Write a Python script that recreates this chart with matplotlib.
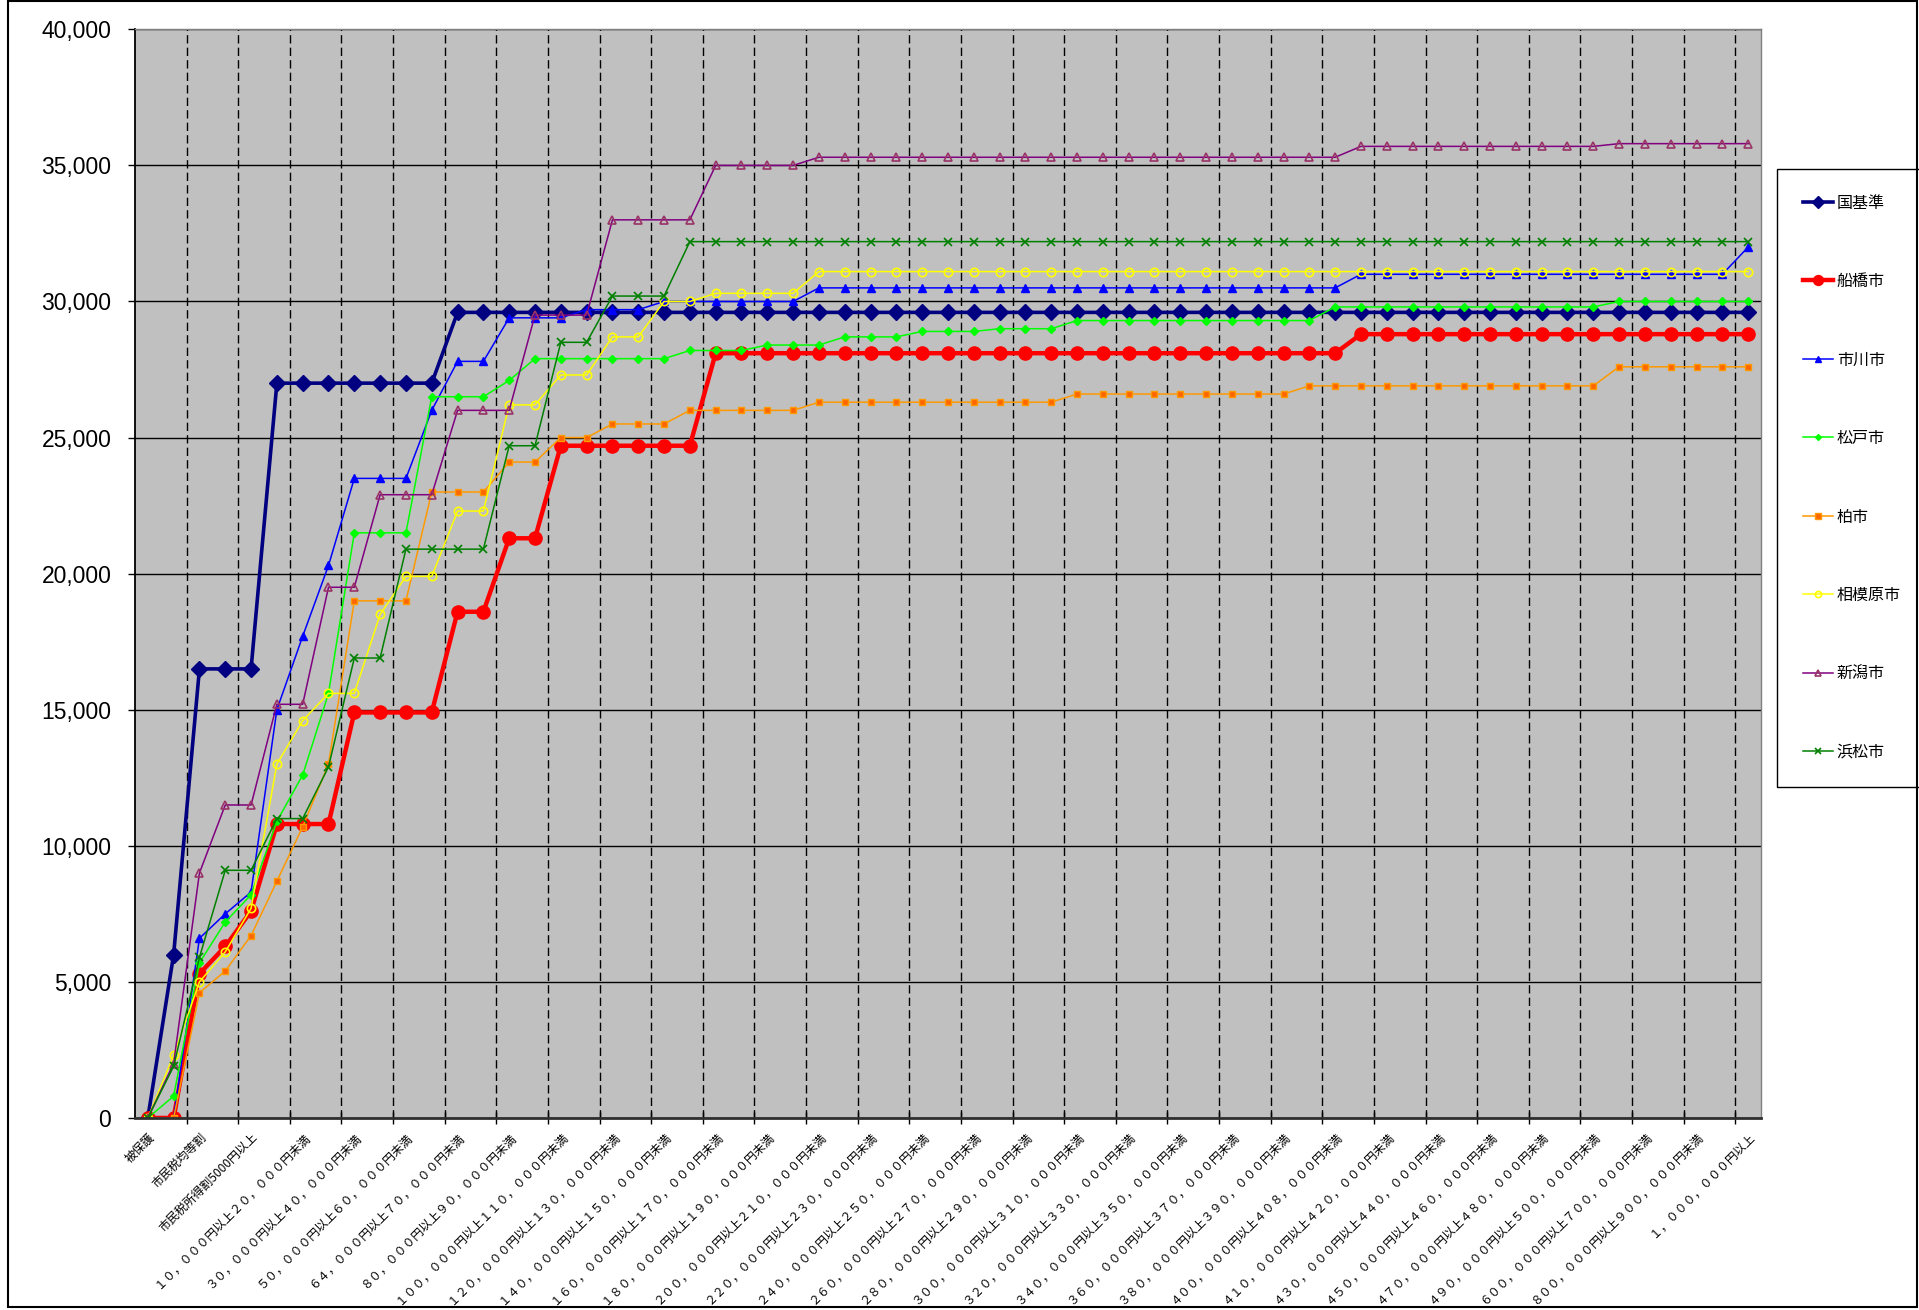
import matplotlib
matplotlib.use('Agg')
import matplotlib.pyplot as plt
from matplotlib.patches import Rectangle
from matplotlib.ticker import FuncFormatter, MultipleLocator

# tick labels (every second category is labelled)
x_labels = [
    '被保護', '市民税均等割', '市民税所得割5000円以上',
    '１０，０００円以上２０，０００円未満',
    '３０，０００円以上４０，０００円未満',
    '５０，０００円以上６０，０００円未満',
    '６４，０００円以上７０，０００円未満',
    '８０，０００円以上９０，０００円未満',
    '１００，０００円以上１１０，０００円未満',
    '１２０，０００円以上１３０，０００円未満',
    '１４０，０００円以上１５０，０００円未満',
    '１６０，０００円以上１７０，０００円未満',
    '１８０，０００円以上１９０，０００円未満',
    '２００，０００円以上２１０，０００円未満',
    '２２０，０００円以上２３０，０００円未満',
    '２４０，０００円以上２５０，０００円未満',
    '２６０，０００円以上２７０，０００円未満',
    '２８０，０００円以上２９０，０００円未満',
    '３００，０００円以上３１０，０００円未満',
    '３２０，０００円以上３３０，０００円未満',
    '３４０，０００円以上３５０，０００円未満',
    '３６０，０００円以上３７０，０００円未満',
    '３８０，０００円以上３９０，０００円未満',
    '４００，０００円以上４０８，０００円未満',
    '４１０，０００円以上４２０，０００円未満',
    '４３０，０００円以上４４０，０００円未満',
    '４５０，０００円以上４６０，０００円未満',
    '４７０，０００円以上４８０，０００円未満',
    '４９０，０００円以上５００，０００円未満',
    '６００，０００円以上７００，０００円未満',
    '８００，０００円以上９００，０００円未満',
    '１，０００，０００円以上',
]

kuni = [0, 6000, 16500, 16500, 16500, 27000, 27000, 27000, 27000, 27000,
        27000, 27000, 29600, 29600, 29600, 29600, 29600, 29600, 29600, 29600,
        29600, 29600, 29600, 29600, 29600, 29600, 29600, 29600, 29600, 29600,
        29600, 29600, 29600, 29600, 29600, 29600, 29600, 29600, 29600, 29600,
        29600, 29600, 29600, 29600, 29600, 29600, 29600, 29600, 29600, 29600,
        29600, 29600, 29600, 29600, 29600, 29600, 29600, 29600, 29600, 29600,
        29600, 29600, 29600]
funabashi = [0, 0, 5300, 6300, 7600, 10800, 10800, 10800, 14900, 14900,
             14900, 14900, 18600, 18600, 21300, 21300, 24700, 24700, 24700, 24700,
             24700, 24700, 28100, 28100, 28100, 28100, 28100, 28100, 28100, 28100,
             28100, 28100, 28100, 28100, 28100, 28100, 28100, 28100, 28100, 28100,
             28100, 28100, 28100, 28100, 28100, 28100, 28100, 28800, 28800, 28800,
             28800, 28800, 28800, 28800, 28800, 28800, 28800, 28800, 28800, 28800,
             28800, 28800, 28800]
ichikawa = [0, 0, 6600, 7500, 8300, 15000, 17700, 20300, 23500, 23500,
            23500, 26000, 27800, 27800, 29400, 29400, 29400, 29700, 29700, 29700,
            30000, 30000, 30000, 30000, 30000, 30000, 30500, 30500, 30500, 30500,
            30500, 30500, 30500, 30500, 30500, 30500, 30500, 30500, 30500, 30500,
            30500, 30500, 30500, 30500, 30500, 30500, 30500, 31000, 31000, 31000,
            31000, 31000, 31000, 31000, 31000, 31000, 31000, 31000, 31000, 31000,
            31000, 31000, 32000]
matsudo = [0, 800, 5700, 7200, 8200, 10900, 12600, 15600, 21500, 21500,
           21500, 26500, 26500, 26500, 27100, 27900, 27900, 27900, 27900, 27900,
           27900, 28200, 28200, 28200, 28400, 28400, 28400, 28700, 28700, 28700,
           28900, 28900, 28900, 29000, 29000, 29000, 29300, 29300, 29300, 29300,
           29300, 29300, 29300, 29300, 29300, 29300, 29800, 29800, 29800, 29800,
           29800, 29800, 29800, 29800, 29800, 29800, 29800, 30000, 30000, 30000,
           30000, 30000, 30000]
kashiwa = [0, 0, 4600, 5400, 6700, 8700, 10700, 13000, 19000, 19000,
           19000, 23000, 23000, 23000, 24100, 24100, 25000, 25000, 25500, 25500,
           25500, 26000, 26000, 26000, 26000, 26000, 26300, 26300, 26300, 26300,
           26300, 26300, 26300, 26300, 26300, 26300, 26600, 26600, 26600, 26600,
           26600, 26600, 26600, 26600, 26600, 26900, 26900, 26900, 26900, 26900,
           26900, 26900, 26900, 26900, 26900, 26900, 26900, 27600, 27600, 27600,
           27600, 27600, 27600]
sagamihara = [0, 2300, 5000, 6100, 7700, 13000, 14600, 15600, 15600, 18500,
              19900, 19900, 22300, 22300, 26200, 26200, 27300, 27300, 28700, 28700,
              30000, 30000, 30300, 30300, 30300, 30300, 31100, 31100, 31100, 31100,
              31100, 31100, 31100, 31100, 31100, 31100, 31100, 31100, 31100, 31100,
              31100, 31100, 31100, 31100, 31100, 31100, 31100, 31100, 31100, 31100,
              31100, 31100, 31100, 31100, 31100, 31100, 31100, 31100, 31100, 31100,
              31100, 31100, 31100]
niigata = [0, 2000, 9000, 11500, 11500, 15200, 15200, 19500, 19500, 22900,
           22900, 22900, 26000, 26000, 26000, 29500, 29500, 29500, 33000, 33000,
           33000, 33000, 35000, 35000, 35000, 35000, 35300, 35300, 35300, 35300,
           35300, 35300, 35300, 35300, 35300, 35300, 35300, 35300, 35300, 35300,
           35300, 35300, 35300, 35300, 35300, 35300, 35300, 35700, 35700, 35700,
           35700, 35700, 35700, 35700, 35700, 35700, 35700, 35800, 35800, 35800,
           35800, 35800, 35800]
hamamatsu = [0, 1900, 5900, 9100, 9100, 11000, 11000, 12900, 16900, 16900,
             20900, 20900, 20900, 20900, 24700, 24700, 28500, 28500, 30200, 30200,
             30200, 32200, 32200, 32200, 32200, 32200, 32200, 32200, 32200, 32200,
             32200, 32200, 32200, 32200, 32200, 32200, 32200, 32200, 32200, 32200,
             32200, 32200, 32200, 32200, 32200, 32200, 32200, 32200, 32200, 32200,
             32200, 32200, 32200, 32200, 32200, 32200, 32200, 32200, 32200, 32200,
             32200, 32200, 32200]

names = ['国基準', '船橋市', '市川市', '松戸市', '柏市', '相模原市', '新潟市', '浜松市']
series = [kuni, funabashi, ichikawa, matsudo, kashiwa, sagamihara, niigata, hamamatsu]
styles = [
    dict(color='#000080', lw=2.6, marker='D', ms=8.5, mfc='#000080', mec='#000080'),
    dict(color='#FF0000', lw=3.2, marker='o', ms=9.5, mfc='#FF0000', mec='#FF0000'),
    dict(color='#0000FF', lw=1.1, marker='^', ms=6, mfc='#0000FF', mec='#0000FF'),
    dict(color='#00FF00', lw=1.1, marker='D', ms=4, mfc='#00FF00', mec='#00FF00'),
    dict(color='#FF9900', lw=1.1, marker='s', ms=5, mfc='#FF6600', mec='#FF9900'),
    dict(color='#FFFF00', lw=1.1, marker='o', ms=6, mfc='none', mec='#FFFF00', mew=1.2),
    dict(color='#800080', lw=1.1, marker='^', ms=6, mfc='none', mec='#993366', mew=1.2),
    dict(color='#008000', lw=1.1, marker='x', ms=5.5, mec='#008000', mew=1.2),
]

plt.rcParams['font.family'] = ['Noto Sans CJK JP', 'DejaVu Sans']

fig = plt.figure(figsize=(19.19, 13.10), dpi=100)
ax = fig.add_axes([0.0703, 0.1466, 0.8474, 0.8310])
ax.set_facecolor('#C0C0C0')

x = list(range(len(kuni)))
for name, vals, st in zip(names, series, styles):
    ax.plot(x, vals, label=name, **st)

ax.set_xlim(-0.5, len(x) - 0.5)
ax.set_ylim(0, 40000)
ax.yaxis.set_major_locator(MultipleLocator(5000))
ax.yaxis.set_major_formatter(FuncFormatter(lambda v, p: f'{int(v):,}'))
ax.tick_params(axis='y', length=5, width=1, pad=12, labelsize=16.5)
for lab in ax.get_yticklabels():
    lab.set_fontfamily('Liberation Sans')
ax.grid(axis='y', which='major', color='black', lw=1, ls='-')

ax.set_xticks(x[::2])
ax.set_xticklabels(x_labels, rotation=45, ha='right', va='top',
                   rotation_mode='anchor', fontsize=8.6)
ax.tick_params(axis='x', which='major', length=0, pad=9)
ax.set_xticks([i + 1.5 for i in x[:-1:2]], minor=True)
ax.tick_params(axis='x', which='minor', direction='inout', length=9, width=1)
ax.grid(axis='x', which='minor', color='black', lw=1, ls=(0, (6, 3)))
ax.set_axisbelow(True)

for side in ['top', 'right']:
    ax.spines[side].set_color('#808080')
    ax.spines[side].set_linewidth(1)
ax.spines['left'].set_linewidth(1.3)
ax.spines['bottom'].set_linewidth(2)
ax.spines['bottom'].set_color('#303030')

leg = ax.legend(loc='upper left', bbox_to_anchor=(1777 / 1919, 1 - 169 / 1310),
                bbox_transform=fig.transFigure, borderaxespad=0, fontsize=11.5,
                labelspacing=3.85, borderpad=1.6, handlelength=1.9,
                handletextpad=0.25, fancybox=False, framealpha=1,
                edgecolor='black', markerscale=0.75)
leg.get_frame().set_linewidth(1)

fig.patches.append(Rectangle((0.004, 0.002), 0.995, 0.997, transform=fig.transFigure,
                             fill=False, edgecolor='black', lw=1.5))

fig.savefig('out.png', dpi=100)
plt.close(fig)
